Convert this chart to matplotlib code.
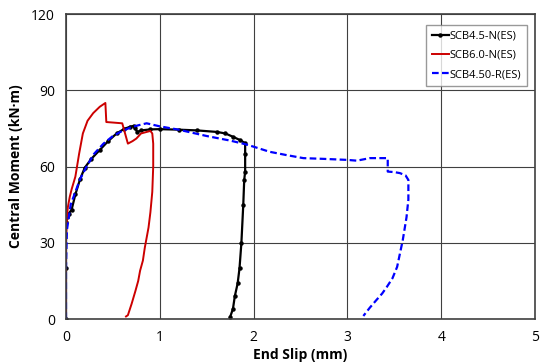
import numpy as np
import matplotlib.pyplot as plt

plt.rcParams['font.family'] = ['Open Sans', 'DejaVu Sans']

# SCB4.5-N(ES)
slip_a = [0.0, 0.0, 0.0, 0.01, 0.03, 0.06, 0.1, 0.15, 0.2, 0.27, 0.36, 0.45, 0.54, 0.62, 0.68, 0.72,
          0.74, 0.76, 0.8, 0.9, 1.0, 1.2, 1.4, 1.61, 1.7, 1.78, 1.85, 1.91, 1.91, 1.91, 1.9,
          1.89, 1.87, 1.85, 1.83, 1.8, 1.78, 1.75]
mom_a = [0.0, 20.0, 38.0, 40.0, 41.5, 43.0, 49.0, 55.0, 59.5, 63.0, 66.5, 70.0, 73.0, 74.8, 75.6, 76.0,
         75.0, 73.6, 74.2, 74.6, 74.7, 74.5, 74.2, 73.6, 73.0, 71.7, 70.5, 69.2, 65.0, 58.0, 54.7,
         45.0, 30.0, 20.0, 14.0, 9.0, 4.0, 0.8]

# SCB6.0-N(ES)
slip_b = [0.0, 0.0, 0.01, 0.02, 0.04, 0.06, 0.1, 0.14, 0.18, 0.23, 0.29, 0.36, 0.42, 0.43, 0.5,
          0.6, 0.63, 0.66, 0.71, 0.75, 0.8, 0.85, 0.9, 0.92, 0.93, 0.93, 0.92, 0.9, 0.88, 0.84,
          0.82, 0.79, 0.77, 0.74, 0.7, 0.66, 0.64]
mom_b = [0.0, 30.0, 40.0, 44.0, 48.0, 51.0, 56.0, 65.0, 73.0, 78.0, 81.0, 83.5, 85.0, 77.5, 77.3,
         77.0, 73.0, 69.0, 70.0, 71.0, 73.0, 73.5, 74.0, 73.0, 69.0, 60.0, 50.0, 42.0, 36.0, 28.0,
         23.0, 19.0, 15.0, 11.0, 6.0, 1.5, 1.0]

# SCB4.50-R(ES)
slip_c = [0.0, 0.0, 0.01, 0.05, 0.1, 0.15, 0.22, 0.3, 0.4, 0.5, 0.6, 0.7, 0.78, 0.86, 1.0, 1.2,
          1.5, 1.75, 1.91, 2.0, 2.17, 2.35, 2.53, 2.75, 3.0, 3.1, 3.24, 3.43, 3.43, 3.5, 3.56,
          3.62, 3.65, 3.65, 3.63, 3.59, 3.53, 3.48, 3.42, 3.37, 3.31, 3.24, 3.17]
mom_c = [0.0, 20.0, 35.0, 45.0, 50.0, 55.0, 60.0, 65.0, 69.0, 72.0, 74.0, 75.5, 76.3, 77.0, 75.8, 74.5,
         72.0, 70.2, 68.8, 67.8, 65.8, 64.5, 63.3, 63.0, 62.6, 62.3, 63.3, 63.3, 58.0, 57.8, 57.4,
         56.5, 54.7, 47.0, 40.0, 31.0, 20.5, 16.0, 12.6, 10.0, 7.5, 4.5, 1.2]

fig = plt.figure(figsize=(5.43, 3.64), dpi=100)
ax = fig.add_axes([0.1215, 0.1236, 0.8638, 0.8379])

ax.plot(slip_a, mom_a, color='black', lw=1.6, marker='o', ms=2.2, label='SCB4.5-N(ES)')
ax.plot(slip_b, mom_b, color='#cc0000', lw=1.4, label='SCB6.0-N(ES)')
ax.plot(slip_c, mom_c, color='#0000ff', lw=1.6, ls=(0, (3, 1.5)), label='SCB4.50-R(ES)')

ax.set_xlim(0, 5)
ax.set_ylim(0, 120)
ax.set_xticks([0, 1, 2, 3, 4, 5])
ax.set_yticks([0, 30, 60, 90, 120])
ax.grid(True, color='#404040', lw=0.8)
ax.set_axisbelow(True)
for s in ax.spines.values():
    s.set_color('#404040')
    s.set_linewidth(1.2)
ax.tick_params(length=0, labelsize=10, pad=8)

ax.set_xlabel('End Slip (mm)', fontsize=10, fontweight='bold', labelpad=2)
ax.set_ylabel('Central Moment (kN·m)', fontsize=10, fontweight='bold', labelpad=6)

leg = ax.legend(loc='upper right', bbox_to_anchor=(0.99, 0.975), fontsize=8, frameon=True,
                fancybox=False, edgecolor='#808080', handlelength=1.5, handletextpad=0.1,
                borderpad=0.5, labelspacing=0.75, numpoints=1, borderaxespad=0.3)
leg.get_frame().set_linewidth(1.0)

fig.savefig('out.png', dpi=100)
